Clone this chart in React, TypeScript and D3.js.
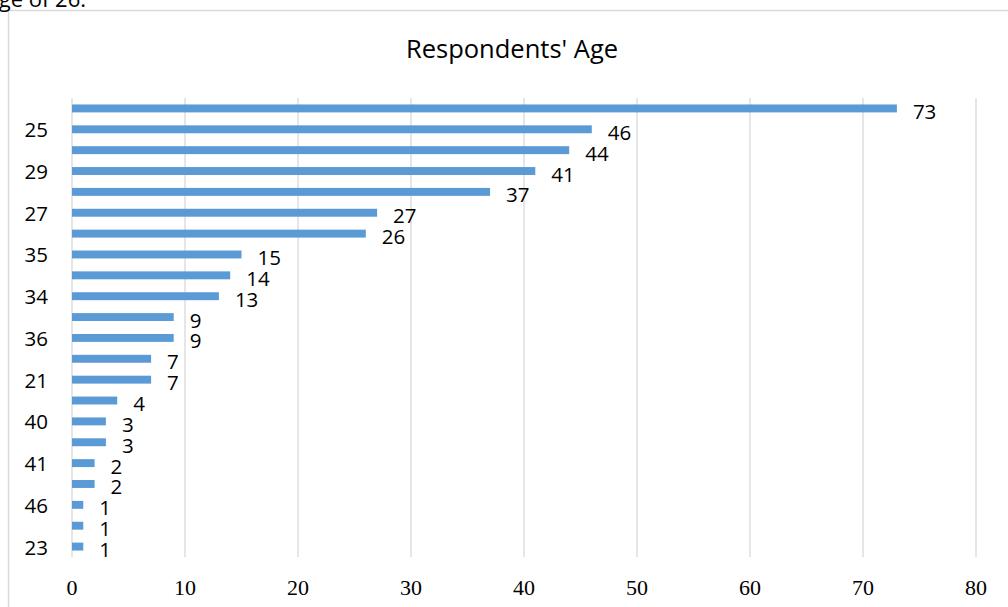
import React from "react";
import * as d3 from "d3";

// Respondents by age, ordered by count (largest first)
const ages = ["26", "25", "24", "29", "28", "27", "30", "35", "32", "34", "31", "36", "33", "21", "22", "40", "38", "41", "37", "46", "44", "23"];
const counts = [73, 46, 44, 41, 37, 27, 26, 15, 14, 13, 9, 9, 7, 7, 4, 3, 3, 2, 2, 1, 1, 1];
const xTicks = [0, 10, 20, 30, 40, 50, 60, 70, 80];
const title = "Respondents' Age";

const W = 1008;
const H = 607;
const plot = { left: 72, right: 976, top: 98, bottom: 557 };
const sans = "'Open Sans', 'Noto Sans', sans-serif";
const serif = "'Liberation Serif', 'DejaVu Serif', serif";
const barColor = "#5b9bd5";
const gridColor = "#d9d9d9";

export default function App() {
  const x = d3.scaleLinear().domain([0, 80]).range([plot.left, plot.right]);
  const y = d3.scaleBand<string>().domain(ages).range([plot.top, plot.bottom]).paddingInner(0.62).paddingOuter(0.31);

  return (
    <svg
      width={W}
      height={H}
      viewBox={`0 0 ${W} ${H}`}
      style={{ position: "absolute", left: 0, top: 0, display: "block", background: "#fff" }}
    >
      {/* chart frame */}
      <rect x={8.5} y={10.5} width={W + 20} height={H + 20} fill="#fff" stroke={gridColor} strokeWidth={1.5} />

      {/* tail of the sentence above the chart */}
      <text x={86} y={7} textAnchor="end" style={{ fontFamily: sans, fontSize: 22 }} fill="#000">
        age of 26.
      </text>

      <text x={512} y={58} textAnchor="middle" style={{ fontFamily: sans, fontSize: 25.5 }} fill="#000">
        {title}
      </text>

      {/* vertical gridlines */}
      {xTicks.map((t) => (
        <line key={`g${t}`} x1={x(t)} x2={x(t)} y1={plot.top} y2={plot.bottom} stroke={gridColor} strokeWidth={1.3} />
      ))}

      {/* bars */}
      {ages.map((a, i) => (
        <rect key={`b${a}`} x={x(0)} y={y(a)} width={x(counts[i]) - x(0)} height={y.bandwidth()} fill={barColor} />
      ))}

      {/* value labels */}
      {ages.map((a, i) => (
        <text
          key={`v${a}`}
          x={x(counts[i]) + 16}
          y={(y(a) as number) + y.bandwidth() / 2 + 2.5}
          dominantBaseline="central"
          style={{ fontFamily: sans, fontSize: 20.5 }}
          fill="#000"
        >
          {counts[i]}
        </text>
      ))}

      {/* category labels, every second one */}
      {ages.map((a, i) =>
        i % 2 === 1 ? (
          <text
            key={`c${a}`}
            x={48}
            y={(y(a) as number) + y.bandwidth() / 2}
            textAnchor="end"
            dominantBaseline="central"
            style={{ fontFamily: sans, fontSize: 20.5 }}
            fill="#000"
          >
            {a}
          </text>
        ) : null
      )}

      {/* value axis labels */}
      {xTicks.map((t) => (
        <text key={`t${t}`} x={x(t)} y={595} textAnchor="middle" style={{ fontFamily: serif, fontSize: 22 }} fill="#000">
          {t}
        </text>
      ))}
    </svg>
  );
}
